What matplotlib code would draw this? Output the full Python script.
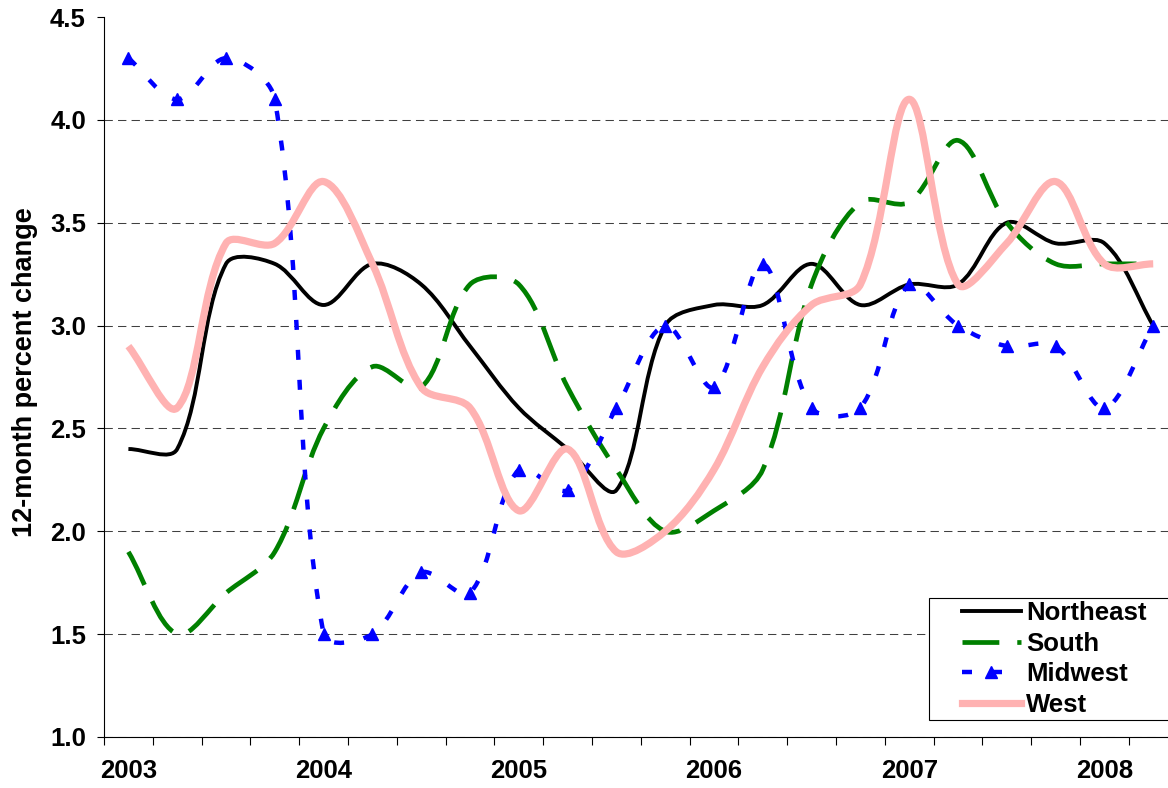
import numpy as np
import matplotlib
matplotlib.use('Agg')
import matplotlib.pyplot as plt
from matplotlib.path import Path
from matplotlib.patches import PathPatch
from matplotlib.lines import Line2D
from matplotlib.legend_handler import HandlerLine2D

# 12-month percent change by region, quarterly 2003 Q1 - 2008 Q2
years = ['2003', '2004', '2005', '2006', '2007', '2008']
quarters = list(range(22))
northeast = [2.4, 2.4, 3.3, 3.3, 3.1, 3.3, 3.2, 2.9, 2.6, 2.4, 2.2, 3.0,
             3.1, 3.1, 3.3, 3.1, 3.2, 3.2, 3.5, 3.4, 3.4, 3.0]
south = [1.9, 1.5, 1.7, 1.9, 2.5, 2.8, 2.7, 3.2, 3.2, 2.7, 2.3, 2.0,
         2.1, 2.3, 3.2, 3.6, 3.6, 3.9, 3.5, 3.3, 3.3, 3.3]
midwest = [4.3, 4.1, 4.3, 4.1, 1.5, 1.5, 1.8, 1.7, 2.3, 2.2, 2.6, 3.0,
           2.7, 3.3, 2.6, 2.6, 3.2, 3.0, 2.9, 2.9, 2.6, 3.0]
west = [2.9, 2.6, 3.4, 3.4, 3.7, 3.3, 2.7, 2.6, 2.1, 2.4, 1.9, 2.0,
        2.3, 2.8, 3.1, 3.2, 4.1, 3.2, 3.4, 3.7, 3.3, 3.3]

plt.rcParams['font.family'] = ['Liberation Sans', 'DejaVu Sans']
plt.rcParams['font.weight'] = 'bold'

fig = plt.figure(figsize=(11.68, 7.88), dpi=100)
ax = fig.add_axes([104 / 1168, 51 / 788, 1073.6 / 1168, 720 / 788])
ax.set_xlim(-0.5, 21.5)
ax.set_ylim(1.0, 4.5)


def smooth_path(ax, xs, ys):
    """Bezier path through the points, similar to a spreadsheet 'smoothed line'."""
    pts = ax.transData.transform(np.column_stack([xs, ys]))
    n = len(pts)
    verts = [pts[0]]
    codes = [Path.MOVETO]
    for i in range(n - 1):
        p0 = pts[i - 1] if i > 0 else pts[i]
        p1, p2 = pts[i], pts[i + 1]
        p3 = pts[i + 2] if i + 2 < n else pts[i + 1]
        d01 = np.hypot(*(p1 - p0))
        d12 = np.hypot(*(p2 - p1))
        d23 = np.hypot(*(p3 - p2))
        c1 = p1 + (p2 - p0) * d12 / (d01 + d12) / 3
        c2 = p2 - (p3 - p1) * d12 / (d12 + d23) / 3
        verts += [c1, c2, p2]
        codes += [Path.CURVE4] * 3
    verts = ax.transData.inverted().transform(np.array(verts))
    return Path(verts, codes)


ne_style = dict(color='black', lw=2.8)
so_style = dict(color='#008000', lw=3.4, ls=(0, (7.8, 3.8)))
mw_style = dict(color='#0000FF', lw=3.2, ls=(0, (2.25, 4.5)))
we_style = dict(color='#FFB2B2', lw=5.2)

for vals, st, z in [(northeast, ne_style, 3), (south, so_style, 4),
                    (midwest, mw_style, 5), (west, we_style, 6)]:
    ax.add_patch(PathPatch(smooth_path(ax, quarters, vals), fill=False,
                           edgecolor=st['color'], lw=st['lw'],
                           linestyle=st.get('ls', '-'), capstyle='butt',
                           joinstyle='round', zorder=z))
ax.plot(quarters, midwest, ls='none', marker='^', ms=8.5, color='#0000FF', zorder=5)

# axes, ticks, grid
ax.set_yticks(np.arange(1.0, 4.51, 0.5))
ax.set_yticklabels(['%.1f' % v for v in np.arange(1.0, 4.51, 0.5)])
ax.set_xticks(quarters[::4])
ax.set_xticklabels(years)
ax.set_xticks(np.arange(-0.5, 21.6, 1), minor=True)
ax.tick_params(axis='x', which='major', length=0, pad=16, labelsize=18.5)
ax.tick_params(axis='x', which='minor', length=6, width=0.8, direction='out')
ax.tick_params(axis='y', length=5, width=0.8, direction='out', pad=8, labelsize=18.5)
for s in ['top', 'right']:
    ax.spines[s].set_visible(False)
for s in ['left', 'bottom']:
    ax.spines[s].set_linewidth(0.8)

ax.yaxis.grid(True, ls=(0, (8, 5)), color='#404040', lw=0.75)
ax.yaxis.get_gridlines()[-1].set_visible(False)
ax.set_axisbelow(True)

fig.text(25 / 1168, 1 - 372 / 788, '12-month percent change', rotation=90,
         ha='center', va='center', fontsize=19.5, fontweight='bold')

handles = [Line2D([], [], **ne_style),
           Line2D([], [], **so_style),
           Line2D([], [], marker='^', ms=8.5, **mw_style),
           Line2D([], [], **we_style)]
leg = ax.legend(handles, ['Northeast', 'South', 'Midwest', 'West'],
                loc='lower left', mode='expand',
                bbox_to_anchor=(929 / 1168, 68 / 788, 260 / 1168, 126 / 788),
                bbox_transform=fig.transFigure, borderaxespad=0,
                prop={'weight': 'bold', 'size': 18.5}, handlelength=3.45,
                handletextpad=0.2, borderpad=0.12, labelspacing=0.26,
                fancybox=False, framealpha=1, edgecolor='black',
                handler_map={Line2D: HandlerLine2D(xpad=1.16)})
leg.get_frame().set_linewidth(0.8)
leg.set_zorder(10)

fig.savefig('out.png', dpi=100)
